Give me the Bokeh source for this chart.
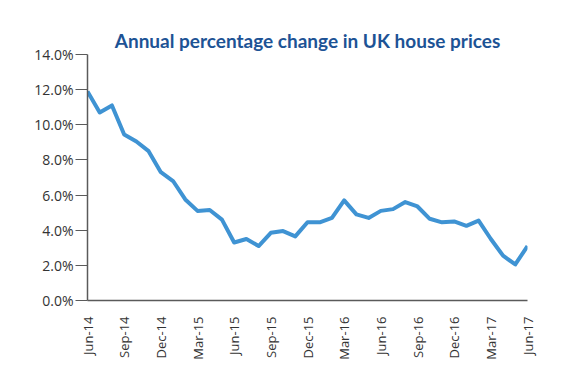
import math
from bokeh.plotting import figure
from bokeh.models import Range1d, FixedTicker, NumeralTickFormatter, Title
from bokeh.embed import file_html
from bokeh.resources import INLINE

months = ["Jun-14", "Jul-14", "Aug-14", "Sep-14", "Oct-14", "Nov-14", "Dec-14",
          "Jan-15", "Feb-15", "Mar-15", "Apr-15", "May-15", "Jun-15", "Jul-15",
          "Aug-15", "Sep-15", "Oct-15", "Nov-15", "Dec-15", "Jan-16", "Feb-16",
          "Mar-16", "Apr-16", "May-16", "Jun-16", "Jul-16", "Aug-16", "Sep-16",
          "Oct-16", "Nov-16", "Dec-16", "Jan-17", "Feb-17", "Mar-17", "Apr-17",
          "May-17", "Jun-17"]
change = [11.9, 10.7, 11.1, 9.45, 9.05, 8.5, 7.3,
          6.8, 5.75, 5.1, 5.15, 4.6, 3.3, 3.5,
          3.1, 3.85, 3.95, 3.65, 4.45, 4.45, 4.7,
          5.7, 4.9, 4.7, 5.1, 5.2, 5.6, 5.35,
          4.65, 4.45, 4.5, 4.25, 4.55, 3.5, 2.55,
          2.05, 3.1]
y_ticks = [0, 2, 4, 6, 8, 10, 12, 14]

xs = list(range(len(months)))
ys = [v / 100 for v in change]

p = figure(width=563, height=362, output_backend="svg", toolbar_location=None,
           x_range=Range1d(0, len(months) - 1), y_range=Range1d(0, 0.14))
p.min_border_left = 87
p.min_border_right = 36
p.min_border_top = 54
p.min_border_bottom = 55
p.outline_line_color = None
p.background_fill_color = "white"
p.border_fill_color = "white"
p.xgrid.grid_line_color = None
p.ygrid.grid_line_color = None

t = Title(text="Annual percentage change in UK house prices", align="center",
          text_color="#1d5395", text_font="Lato", text_font_size="19px",
          text_font_style="bold", standoff=6)
p.add_layout(t, "above")

p.line(xs, ys, line_color="#3f93d3", line_width=4, line_join="round")

idx = list(range(0, len(months), 3))
p.xaxis.ticker = FixedTicker(ticks=idx)
p.xaxis.major_label_overrides = {i: months[i] for i in idx}
p.xaxis.major_label_orientation = math.pi / 2
p.xaxis.major_tick_line_color = None
p.xaxis.minor_tick_line_color = None
p.xaxis.axis_line_color = "#5a5a5a"
p.xaxis.axis_line_width = 1.5
p.xaxis.major_label_text_font = "Open Sans"
p.xaxis.major_label_text_font_size = "13px"
p.xaxis.major_label_text_color = "#333333"
p.xaxis.major_label_standoff = 10

p.yaxis.ticker = FixedTicker(ticks=[v / 100 for v in y_ticks])
p.yaxis.formatter = NumeralTickFormatter(format="0.0%")
p.yaxis.minor_tick_line_color = None
p.yaxis.major_tick_in = 0
p.yaxis.major_tick_out = 12
p.yaxis.major_tick_line_color = "#5a5a5a"
p.yaxis.axis_line_color = "#5a5a5a"
p.yaxis.axis_line_width = 1.5
p.yaxis.major_label_text_font = "Open Sans"
p.yaxis.major_label_text_font_size = "14px"
p.yaxis.major_label_text_color = "#333333"
p.yaxis.major_label_standoff = 2

open("out.html", "w").write(file_html(p, INLINE))
